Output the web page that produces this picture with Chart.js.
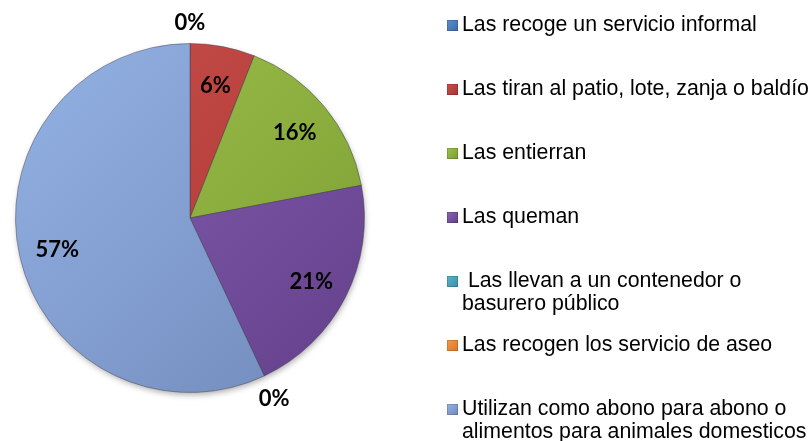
<!DOCTYPE html>
<html>
<head>
<meta charset="utf-8">
<script src="https://cdn.jsdelivr.net/npm/chart.js@4"></script>
<style>
  body { margin: 0; background: #fff; }
  #wrap { position: relative; width: 812px; height: 441px; }
  #pie { position: absolute; left: 0; top: 0; }
  .item { position: absolute; left: 447px; font: 21.3px "Liberation Sans", Arial, sans-serif; line-height: 23px; color: #000; }
  .item .box { position: absolute; left: 0; top: 7px; width: 11px; height: 11px; }
  .item .txt { display: block; margin-left: 15px; white-space: pre; }
</style>
</head>
<body>
<div id="wrap">
  <canvas id="pie" width="812" height="441"></canvas>
  <div id="legend"></div>
</div>
<script>
// --- Chart data ---
const categories = [
    'Las recoge un servicio informal',
    'Las tiran al patio, lote, zanja o baldío',
    'Las entierran',
    'Las queman',
    ' Las llevan a un contenedor o\nbasurero público',
    'Las recogen los servicio de aseo',
    'Utilizan como abono para abono o\nalimentos para animales domesticos'
];
const percentages = [0, 6, 16, 21, 0, 0, 57];

// light / dark shade of each slice
const lightColors = ['#5b8fd0', '#c9504c', '#9dc24c', '#8a62b6', '#55b6cf', '#f79a4a', '#94b2e4'];
const darkColors  = ['#3d6aa8', '#a8322f', '#7b9c32', '#623f8a', '#3a8ea6', '#d87628', '#7189bb'];

// --- Legend (HTML, built from the arrays) ---
const legend = document.getElementById('legend');
categories.forEach((name, i) => {
    const item = document.createElement('div');
    item.className = 'item';
    item.style.top = (13 + 64 * i) + 'px';
    item.innerHTML = `<span class="box" style="background:linear-gradient(135deg, ${lightColors[i]}, ${darkColors[i]});box-shadow: inset 0 0 0 1px rgba(0,0,0,0.15)"></span><span class="txt">${name}</span>`;
    legend.appendChild(item);
});

// soft shadow under the pie
const pieShadow = {
    id: 'pieShadow',
    beforeDatasetsDraw(chart) {
        const arc = chart.getDatasetMeta(0).data[0];
        if (!arc) return;
        const p = arc.getProps(['x', 'y', 'outerRadius'], true);
        const ctx = chart.ctx;
        ctx.save();
        ctx.shadowColor = 'rgba(0,0,0,0.35)';
        ctx.shadowBlur = 6;
        ctx.shadowOffsetX = 1;
        ctx.shadowOffsetY = 3;
        ctx.fillStyle = '#8a9ab8';
        ctx.beginPath();
        ctx.arc(p.x, p.y, p.outerRadius - 1, 0, Math.PI * 2);
        ctx.fill();
        ctx.restore();
    }
};

// Percent labels: inside big slices, outside for empty ones
const pctLabels = {
    id: 'pctLabels',
    afterDatasetsDraw(chart) {
        const ctx = chart.ctx;
        const meta = chart.getDatasetMeta(0);
        const drawnOutside = [];
        ctx.save();
        ctx.font = 'bold 22px Lato, "Open Sans", sans-serif';
        ctx.fillStyle = '#000';
        ctx.textAlign = 'center';
        ctx.textBaseline = 'middle';
        meta.data.forEach((arc, i) => {
            const p = arc.getProps(['x', 'y', 'startAngle', 'endAngle', 'outerRadius'], true);
            const mid = (p.startAngle + p.endAngle) / 2;
            const value = percentages[i];
            let r = p.outerRadius * 0.78;
            if (value === 0) {
                const key = mid.toFixed(3);
                if (drawnOutside.includes(key)) return;
                drawnOutside.push(key);
                r = p.outerRadius + 23;
            }
            ctx.fillText(value + '%', p.x + Math.cos(mid) * r, p.y + Math.sin(mid) * r + 2);
        });
        ctx.restore();
    }
};

const ctx = document.getElementById('pie').getContext('2d');
new Chart(ctx, {
    type: 'pie',
    data: {
        labels: categories,
        datasets: [{
            data: percentages,
            backgroundColor: (c) => {
                const area = c.chart.chartArea;
                if (!area) return lightColors[c.dataIndex];
                const g = c.chart.ctx.createLinearGradient(area.left, area.top, area.right, area.bottom);
                g.addColorStop(0, lightColors[c.dataIndex]);
                g.addColorStop(1, darkColors[c.dataIndex]);
                return g;
            },
            borderColor: 'rgba(60,60,70,0.45)',
            borderWidth: 1
        }]
    },
    options: {
        responsive: false,
        animation: false,
        layout: { padding: { left: 15, top: 43, right: 447, bottom: 48 } },
        plugins: { legend: { display: false }, tooltip: { enabled: false } }
    },
    plugins: [pieShadow, pctLabels]
});
</script>
</body>
</html>
